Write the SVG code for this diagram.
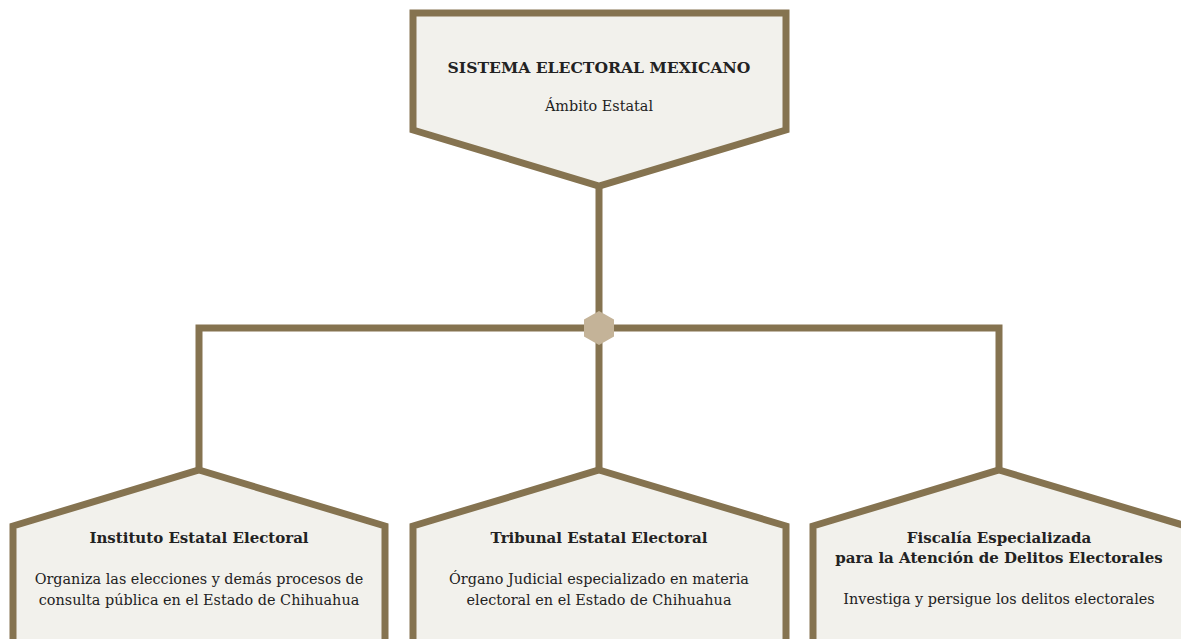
<svg xmlns="http://www.w3.org/2000/svg" width="1181" height="639" viewBox="0 0 1181 639">
<style>
.box{fill:#f2f1ec;stroke:#857350;stroke-width:7;stroke-linejoin:miter}
.con{fill:none;stroke:#857350;stroke-width:7}
.t{font-family:"DejaVu Serif","Liberation Serif",serif;font-size:15px;font-weight:bold;fill:#222;text-anchor:middle}
.b{font-family:"DejaVu Serif","Liberation Serif",serif;font-size:14.4px;fill:#222;text-anchor:middle}
</style>
<rect width="1181" height="639" fill="#ffffff"/>
<g id="connectors">
<line class="con" x1="599" y1="184" x2="599" y2="472"/>
<polyline class="con" points="199,472 199,328 999,328 999,472"/>
<polygon id="junction" points="599,311 614,319.5 614,336.5 599,345 584,336.5 584,319.5" fill="#c4b398"/>
</g>
<g id="node-top">
<polygon class="box" points="413,13 786,13 786,130 599,186 413,130"/>
<text class="t" x="599" y="73" style="font-size:15.6px">SISTEMA ELECTORAL MEXICANO</text>
<text class="b" x="599" y="111">Ámbito Estatal</text>
</g>
<g id="node-iee">
<polygon class="box" points="199,470 385,526 385,660 13,660 13,526"/>
<text class="t" x="199" y="543">Instituto Estatal Electoral</text>
<text class="b" x="199" y="584">Organiza las elecciones y demás procesos de</text>
<text class="b" x="199" y="605">consulta pública en el Estado de Chihuahua</text>
</g>
<g id="node-tee">
<polygon class="box" points="599,470 786,526 786,660 413,660 413,526"/>
<text class="t" x="599" y="543">Tribunal Estatal Electoral</text>
<text class="b" x="599" y="584">Órgano Judicial especializado en materia</text>
<text class="b" x="599" y="605">electoral en el Estado de Chihuahua</text>
</g>
<g id="node-fede">
<polygon class="box" points="999,470 1186,526 1186,660 813,660 813,526"/>
<text class="t" x="999" y="543">Fiscalía Especializada</text>
<text class="t" x="999" y="563">para la Atención de Delitos Electorales</text>
<text class="b" x="999" y="604">Investiga y persigue los delitos electorales</text>
</g>
</svg>
